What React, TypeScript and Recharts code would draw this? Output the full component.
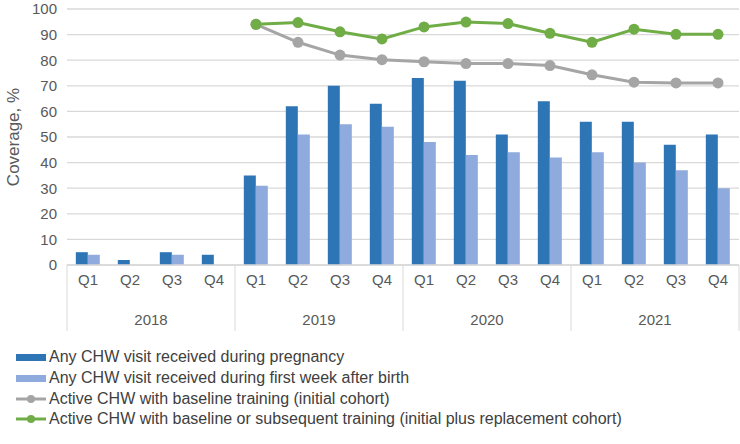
import React from "react";
import {
  ComposedChart,
  Bar,
  Line,
  XAxis,
  YAxis,
  CartesianGrid,
  Legend,
} from "recharts";

const quarters = ["Q1", "Q2", "Q3", "Q4", "Q1", "Q2", "Q3", "Q4", "Q1", "Q2", "Q3", "Q4", "Q1", "Q2", "Q3", "Q4"];
const years = ["2018", "2018", "2018", "2018", "2019", "2019", "2019", "2019", "2020", "2020", "2020", "2020", "2021", "2021", "2021", "2021"];
const pregnancy = [5, 2, 5, 4, 35, 62, 70, 63, 73, 72, 51, 64, 56, 56, 47, 51];
const firstWeek = [4, 0, 4, 0, 31, 51, 55, 54, 48, 43, 44, 42, 44, 40, 37, 30];
const baseline = [null, null, null, null, 94, 87, 82, 80.2, 79.4, 78.7, 78.7, 77.9, 74.3, 71.4, 71.1, 71.1];
const subsequent = [null, null, null, null, 94, 94.7, 91.1, 88.3, 93, 94.9, 94.3, 90.5, 87, 92.1, 90.1, 90.1];
const yTicks = [0, 10, 20, 30, 40, 50, 60, 70, 80, 90, 100];

const seriesNames = {
  pregnancy: "Any CHW visit received during pregnancy",
  firstWeek: "Any CHW visit received during first week after birth",
  baseline: "Active CHW with baseline training (initial cohort)",
  subsequent: "Active CHW with baseline or subsequent training (initial plus replacement cohort)",
};

const data = quarters.map((q, i) => ({
  key: `${years[i]}-${q}`,
  q,
  year: years[i],
  pregnancy: pregnancy[i],
  firstWeek: firstWeek[i],
  baseline: baseline[i],
  subsequent: subsequent[i],
}));

const WIDTH = 740;
const HEIGHT = 444;
const MARGIN = { top: 9, right: 1, left: 0, bottom: 0 };
const Y_AXIS_W = 67;
const BAND = (WIDTH - MARGIN.left - MARGIN.right - Y_AXIS_W) / data.length;

const FONT = "'Liberation Sans', Arial, sans-serif";
const TICK_COLOR = "#595959";
const GRID = "#d9d9d9";
const DARK = "#2e75b6";
const LIGHT = "#8faadc";
const GRAY = "#a5a5a5";
const GREEN = "#70ad47";

const QuarterTick = (props: any) => {
  const { x, y, payload, index } = props;
  const i = index ?? payload.index;
  return (
    <g>
      <text x={x} y={y + 20} textAnchor="middle" fill={TICK_COLOR} fontSize={15} fontFamily={FONT}>
        {quarters[i]}
      </text>
      {i % 4 === 0 && (
        <line x1={x - BAND / 2} x2={x - BAND / 2} y1={y} y2={y + 66} stroke={GRID} strokeWidth={1} />
      )}
      {i === data.length - 1 && (
        <line x1={x + BAND / 2} x2={x + BAND / 2} y1={y} y2={y + 66} stroke={GRID} strokeWidth={1} />
      )}
    </g>
  );
};

const YearTick = (props: any) => {
  const { x, y, payload, index } = props;
  const i = index ?? payload.index;
  if (i % 4 !== 1) return <g />;
  return (
    <text x={x + BAND / 2} y={y + 22} textAnchor="middle" fill={TICK_COLOR} fontSize={15} fontFamily={FONT}>
      {years[i]}
    </text>
  );
};

const legendItems = [
  { name: seriesNames.pregnancy, color: DARK, type: "bar" },
  { name: seriesNames.firstWeek, color: LIGHT, type: "bar" },
  { name: seriesNames.baseline, color: GRAY, type: "line" },
  { name: seriesNames.subsequent, color: GREEN, type: "line" },
];

const LegendContent = () => (
  <div style={{ height: 97, paddingTop: 0, paddingLeft: 16, boxSizing: "border-box" }}>
    {legendItems.map((it) => (
      <div key={it.name} style={{ display: "flex", alignItems: "center", height: 20.7, fontFamily: FONT, fontSize: 16, color: "#404040", whiteSpace: "nowrap" }}>
        <svg width={33} height={12} style={{ flex: "none" }}>
          {it.type === "bar" ? (
            <rect x={0} y={3} width={30} height={7} fill={it.color} />
          ) : (
            <g>
              <line x1={0} x2={30} y1={6} y2={6} stroke={it.color} strokeWidth={3} />
              <circle cx={15} cy={6} r={4} fill={it.color} />
            </g>
          )}
        </svg>
        <span>{it.name}</span>
      </div>
    ))}
  </div>
);

export default function App() {
  return (
    <div style={{ position: "absolute", left: 0, top: 0, background: "#fff" }}>
      <ComposedChart
        width={WIDTH}
        height={HEIGHT}
        data={data}
        margin={MARGIN}
        barCategoryGap="21%"
        barGap={0}
      >
        <CartesianGrid vertical={false} stroke={GRID} strokeWidth={1.3} />
        <XAxis
          dataKey="key"
          xAxisId="q"
          interval={0}
          tickLine={false}
          axisLine={{ stroke: GRID, strokeWidth: 1.3 }}
          tickSize={0}
          tickMargin={0}
          height={38}
          tick={<QuarterTick />}
        />
        <XAxis
          dataKey="key"
          xAxisId="year"
          interval={0}
          tickLine={false}
          axisLine={false}
          tickSize={0}
          tickMargin={0}
          height={44}
          tick={<YearTick />}
        />
        <YAxis
          domain={[0, 100]}
          ticks={yTicks}
          width={Y_AXIS_W}
          axisLine={false}
          tickLine={false}
          tickMargin={4}
          tick={{ fill: TICK_COLOR, fontSize: 15, fontFamily: FONT }}
          label={{
            value: "Coverage, %",
            angle: -90,
            position: "insideLeft",
            dx: 8,
            style: { textAnchor: "middle", fill: TICK_COLOR, fontSize: 17, fontFamily: FONT },
          }}
        />
        <Bar xAxisId="q" dataKey="pregnancy" name={seriesNames.pregnancy} fill={DARK} isAnimationActive={false} />
        <Bar xAxisId="q" dataKey="firstWeek" name={seriesNames.firstWeek} fill={LIGHT} isAnimationActive={false} />
        <Line
          xAxisId="q"
          dataKey="baseline"
          name={seriesNames.baseline}
          stroke={GRAY}
          strokeWidth={3}
          dot={{ r: 5.5, fill: GRAY, stroke: GRAY, strokeWidth: 0 }}
          activeDot={false}
          isAnimationActive={false}
        />
        <Line
          xAxisId="q"
          dataKey="subsequent"
          name={seriesNames.subsequent}
          stroke={GREEN}
          strokeWidth={3}
          dot={{ r: 5.5, fill: GREEN, stroke: GREEN, strokeWidth: 0 }}
          activeDot={false}
          isAnimationActive={false}
        />
        <Legend
          layout="horizontal"
          verticalAlign="bottom"
          align="left"
          content={<LegendContent />}
          wrapperStyle={{ left: 0, width: WIDTH }}
        />
      </ComposedChart>
    </div>
  );
}
